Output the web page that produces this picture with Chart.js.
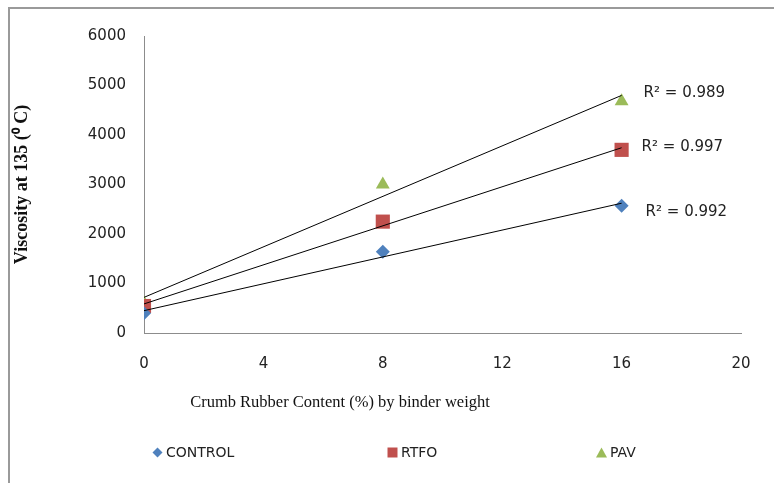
<!DOCTYPE html>
<html>
<head>
<meta charset="utf-8">
<script src="https://cdn.jsdelivr.net/npm/chart.js@4.4.0/dist/chart.umd.min.js"></script>
<style>
  html, body { margin: 0; padding: 0; background: #fff; }
  #wrap { position: relative; width: 774px; height: 483px; overflow: hidden; }
  #frame { position: absolute; left: 8px; top: 7px; width: 800px; height: 520px; border: 2px solid #9a9a9a; box-sizing: border-box; pointer-events: none; }
  #xtitle { position: absolute; left: 140px; width: 400px; top: 392px; text-align: center; font: 16.5px "Liberation Serif", serif; color: #111; }
  #legend { position: absolute; top: 442px; left: 0; width: 774px; height: 20px; font: 14px "DejaVu Sans", sans-serif; color: #222; }
  #legend .item { position: absolute; top: 0; display: flex; align-items: center; height: 20px; }
  #legend .mk { margin-right: 3px; }
</style>
</head>
<body>
<div id="wrap">
  <canvas id="chart" width="774" height="483"></canvas>
  <div id="frame"></div>
  <div id="xtitle">Crumb Rubber Content (%) by binder weight</div>
  <div id="legend"></div>
</div>
<script>
const crumbRubber = [0, 8, 16];
const controlVisc = [400, 1640, 2570];
const rtfoVisc = [545, 2250, 3700];
const pavVisc = [600, 3000, 4680];
const seriesNames = ['CONTROL', 'RTFO', 'PAV'];
const rSquared = ['0.992', '0.997', '0.989'];
const seriesColors = ['#4F81BD', '#C0504D', '#9BBB59'];
const seriesShapes = ['rectRot', 'rect', 'triangle'];

const allSeries = [controlVisc, rtfoVisc, pavVisc];

function linearFit(xs, ys) {
  const n = xs.length;
  const mx = xs.reduce((a, b) => a + b, 0) / n;
  const my = ys.reduce((a, b) => a + b, 0) / n;
  let sxy = 0, sxx = 0;
  for (let i = 0; i < n; i++) {
    sxy += (xs[i] - mx) * (ys[i] - my);
    sxx += (xs[i] - mx) * (xs[i] - mx);
  }
  const slope = sxy / sxx;
  return { slope: slope, intercept: my - slope * mx };
}

const datasets = [];
allSeries.forEach((vals, i) => {
  datasets.push({
    label: seriesNames[i],
    data: crumbRubber.map((x, j) => ({ x: x, y: vals[j] })),
    showLine: false,
    pointStyle: seriesShapes[i],
    pointRadius: i === 0 ? 7 : (i === 1 ? 10 : 8),
    backgroundColor: seriesColors[i],
    borderColor: seriesColors[i],
    borderWidth: 0,
    order: 2,
  });
});
allSeries.forEach((vals, i) => {
  const fit = linearFit(crumbRubber, vals);
  const x0 = crumbRubber[0];
  const x1 = crumbRubber[crumbRubber.length - 1];
  datasets.push({
    label: 'trend' + i,
    data: [{ x: x0, y: fit.intercept + fit.slope * x0 }, { x: x1, y: fit.intercept + fit.slope * x1 }],
    showLine: true,
    borderColor: '#000',
    borderWidth: 1,
    pointRadius: 0,
    order: 1,
  });
});

// offsets of the R² labels from the last point of each series
const labelOffsets = [{ dx: 24, dy: 6 }, { dx: 20, dy: -3 }, { dx: 22, dy: -8 }];

const r2Labels = {
  id: 'r2Labels',
  afterDatasetsDraw(chart) {
    const ctx = chart.ctx;
    const xs = chart.scales.x, ys = chart.scales.y;
    ctx.save();
    ctx.font = '15px "DejaVu Sans", sans-serif';
    ctx.fillStyle = '#222';
    ctx.textBaseline = 'middle';
    ctx.textAlign = 'left';
    allSeries.forEach((vals, i) => {
      const last = vals.length - 1;
      const px = xs.getPixelForValue(crumbRubber[last]) + labelOffsets[i].dx;
      const py = ys.getPixelForValue(vals[last]) + labelOffsets[i].dy;
      ctx.fillText('R² = ' + rSquared[i], px, py);
    });
    ctx.restore();
  }
};

new Chart(document.getElementById('chart'), {
  type: 'scatter',
  data: { datasets: datasets },
  options: {
    responsive: false,
    animation: false,
    layout: { padding: { left: 8, top: 36, right: 33, bottom: 68 } },
    plugins: {
      legend: { display: false },
      tooltip: { enabled: false },
    },
    scales: {
      x: {
        type: 'linear',
        min: 0,
        max: 20,
        ticks: { stepSize: 4, padding: 22, color: '#222', font: { family: 'DejaVu Sans', size: 15 } },
        grid: { display: false, drawTicks: false },
        border: { display: true, color: '#8c8c8c', width: 1 },
        afterFit(scale) { scale.height = 82; },
      },
      y: {
        type: 'linear',
        min: 0,
        max: 6000,
        ticks: {
          stepSize: 1000, padding: 18, color: '#222', font: { family: 'DejaVu Sans', size: 15 },
          callback: (v) => String(v),
        },
        grid: { display: false, drawTicks: false },
        border: { display: true, color: '#8c8c8c', width: 1 },
        title: {
          display: true,
          text: 'Viscosity at 135 (⁰ C)',
          color: '#111',
          font: { family: 'Liberation Serif', size: 18, weight: 'bold' },
          padding: { top: 4, bottom: 0 },
        },
        afterFit(scale) { scale.width = 136; },
      },
    },
  },
  plugins: [r2Labels],
});

// legend below the chart
const legendLeft = [152, 387, 596];
const legendEl = document.getElementById('legend');
seriesNames.forEach((name, i) => {
  const item = document.createElement('div');
  item.className = 'item';
  item.style.left = legendLeft[i] + 'px';
  const mk = document.createElement('canvas');
  mk.className = 'mk';
  mk.width = 11; mk.height = 11;
  const c = mk.getContext('2d');
  c.fillStyle = seriesColors[i];
  c.beginPath();
  if (i === 0) { c.moveTo(5.5, 0.5); c.lineTo(10.5, 5.5); c.lineTo(5.5, 10.5); c.lineTo(0.5, 5.5); }
  else if (i === 1) { c.rect(0.5, 0.5, 10, 10); }
  else { c.moveTo(5.5, 0.5); c.lineTo(11, 10.5); c.lineTo(0, 10.5); }
  c.closePath();
  c.fill();
  item.appendChild(mk);
  const t = document.createElement('span');
  t.textContent = name;
  item.appendChild(t);
  legendEl.appendChild(item);
});
</script>
</body>
</html>
